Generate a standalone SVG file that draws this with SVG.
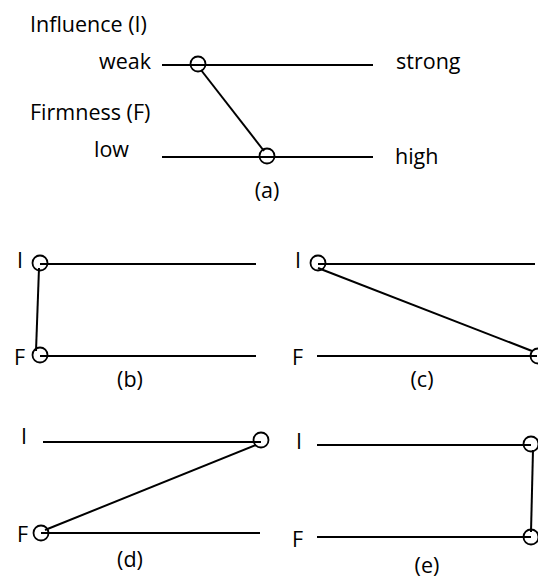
<svg xmlns="http://www.w3.org/2000/svg" width="538" height="583" viewBox="0 0 538 583">
<style>
text{font-family:"Open Sans","DejaVu Sans",sans-serif;font-size:21.5px;fill:#000}
.ax{stroke:#000;stroke-width:2.2;fill:none}
.cn{stroke:#000;stroke-width:2;fill:none}
.pt{stroke:#000;stroke-width:1.8;fill:none}
.m{text-anchor:middle}
.e{text-anchor:end}
</style>
<g id="labels">
<text x="30" y="32">Influence (I)</text>
<text x="151" y="69" class="e">weak</text>
<text x="396" y="69">strong</text>
<text x="30" y="120">Firmness (F)</text>
<text x="94" y="157">low</text>
<text x="395" y="164">high</text>
<text x="267" y="198" class="m">(a)</text>
<text x="17" y="268">I</text>
<text x="14" y="365">F</text>
<text x="130" y="387" class="m">(b)</text>
<text x="295" y="268">I</text>
<text x="292" y="365">F</text>
<text x="422" y="387" class="m">(c)</text>
<text x="21" y="444">I</text>
<text x="17" y="542">F</text>
<text x="130" y="567" class="m">(d)</text>
<text x="296" y="449">I</text>
<text x="292" y="547">F</text>
<text x="427" y="573" class="m">(e)</text>
</g>
<g id="axes">
<line class="ax" x1="162" y1="65" x2="373" y2="65"/>
<line class="ax" x1="162" y1="157" x2="373" y2="157"/>
<line class="ax" x1="40" y1="264" x2="256" y2="264"/>
<line class="ax" x1="40" y1="356" x2="256" y2="356"/>
<line class="ax" x1="318" y1="264" x2="535" y2="264"/>
<line class="ax" x1="317" y1="356" x2="537" y2="356"/>
<line class="ax" x1="43" y1="442" x2="261" y2="442"/>
<line class="ax" x1="41" y1="533" x2="260" y2="533"/>
<line class="ax" x1="317" y1="445" x2="531" y2="445"/>
<line class="ax" x1="317" y1="537" x2="531" y2="537"/>
</g>
<g id="connectors">
<line class="cn" x1="201" y1="70" x2="264" y2="151"/>
<line class="cn" x1="39" y1="268" x2="36" y2="351"/>
<line class="cn" x1="318" y1="268" x2="532" y2="351"/>
<line class="cn" x1="256" y1="445" x2="45" y2="530"/>
<line class="cn" x1="533" y1="450" x2="531" y2="532"/>
</g>
<g id="node-a-I"><circle class="pt" cx="198" cy="64" r="7.5"/></g>
<g id="node-a-F"><circle class="pt" cx="267" cy="156" r="7.5"/></g>
<g id="node-b-I"><circle class="pt" cx="40" cy="263" r="7.5"/></g>
<g id="node-b-F"><circle class="pt" cx="40" cy="355" r="7.5"/></g>
<g id="node-c-I"><circle class="pt" cx="318" cy="263" r="7.5"/></g>
<g id="node-c-F"><circle class="pt" cx="538" cy="356" r="7.5"/></g>
<g id="node-d-I"><circle class="pt" cx="261" cy="440" r="7.5"/></g>
<g id="node-d-F"><circle class="pt" cx="41" cy="533" r="7.5"/></g>
<g id="node-e-I"><circle class="pt" cx="531" cy="444" r="7.5"/></g>
<g id="node-e-F"><circle class="pt" cx="531" cy="537" r="7.5"/></g>
</svg>
